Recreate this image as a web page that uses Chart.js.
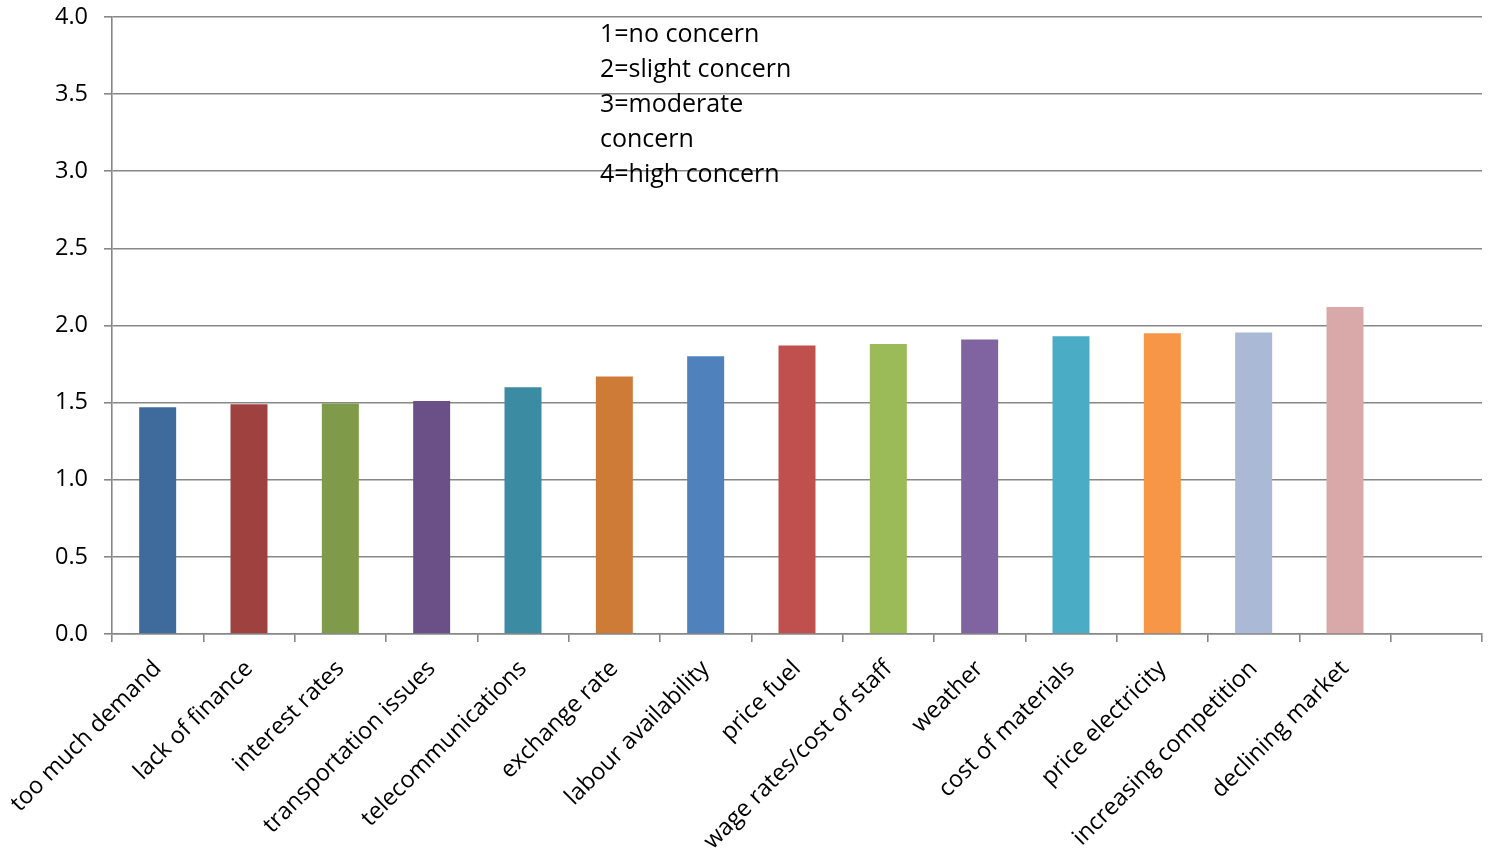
<!DOCTYPE html>
<html>
<head>
<meta charset="utf-8">
<title>Concerns</title>
<script src="https://cdn.jsdelivr.net/npm/chart.js@4/dist/chart.umd.min.js"></script>
<style>
  html, body { margin: 0; padding: 0; background: #fff; }
  #wrap { width: 1489px; height: 848px; position: relative; }
</style>
</head>
<body>
<div id="wrap"><canvas id="concerns"></canvas></div>
<script>
const categories = [
  'too much demand', 'lack of finance', 'interest rates', 'transportation issues',
  'telecommunications', 'exchange rate', 'labour availability', 'price fuel',
  'wage rates/cost of staff', 'weather', 'cost of materials', 'price electricity',
  'increasing competition', 'declining market', ''
];
const meanScores = [1.47, 1.49, 1.495, 1.51, 1.60, 1.67, 1.80, 1.87, 1.88, 1.91, 1.93, 1.95, 1.955, 2.12, null];
const barColors = [
  '#3F6A9C', '#9F413F', '#7F9A49', '#6A5087', '#3B8BA2', '#CD7B37', '#4F81BD',
  '#C0504D', '#9BBB59', '#8064A2', '#4BACC6', '#F79646', '#AAB9D6', '#D9A9AA', '#ffffff'
];
const scaleKey = ['1=no concern', '2=slight concern', '3=moderate', 'concern', '4=high concern'];

const FONT = '"Open Sans", "DejaVu Sans", sans-serif';

// scale legend written inside the plot
const keyText = {
  id: 'keyText',
  afterDraw(chart) {
    const ctx = chart.ctx;
    ctx.save();
    ctx.font = '25px ' + FONT;
    ctx.fillStyle = '#000';
    ctx.textAlign = 'left';
    ctx.textBaseline = 'alphabetic';
    scaleKey.forEach((line, i) => {
      ctx.fillText(line, 600, 42 + i * 35);
    });
    ctx.restore();
  }
};

const ctx = document.getElementById('concerns').getContext('2d');

window.concernsChart = new Chart(ctx, {
  type: 'bar',
  data: {
    labels: categories,
    datasets: [{
      label: 'mean concern',
      data: meanScores,
      backgroundColor: barColors,
      borderWidth: 0,
      barPercentage: 0.405,
      categoryPercentage: 1
    }]
  },
  options: {
    responsive: true,
    maintainAspectRatio: false,
    animation: false,
    layout: {
      padding: { top: 17, right: 7, left: 0, bottom: 0 }
    },
    plugins: {
      legend: { display: false },
      tooltip: { enabled: false }
    },
    scales: {
      x: {
        offset: true,
        grid: {
          offset: true,
          drawOnChartArea: false,
          drawTicks: true,
          tickLength: 8,
          color: '#878787',
          lineWidth: 1.6
        },
        border: { display: true, color: '#878787', width: 1.6 },
        ticks: {
          autoSkip: false,
          minRotation: 45,
          maxRotation: 45,
          padding: 13,
          color: '#000',
          font: { family: FONT, size: 23.5 }
        },
        afterFit(scale) {
          scale.height = 214;
          scale.paddingLeft = 0;
          scale.paddingRight = 0;
        }
      },
      y: {
        min: 0,
        max: 4,
        grid: {
          color: '#878787',
          lineWidth: 1.6,
          tickLength: 8
        },
        border: { display: true, color: '#878787', width: 1.6 },
        ticks: {
          stepSize: 0.5,
          padding: 16,
          color: '#000',
          font: { family: FONT, size: 23.5 },
          callback: (v) => v.toFixed(1)
        },
        afterFit(scale) {
          scale.width = 112;
          scale.paddingTop = 0;
          scale.paddingBottom = 0;
        }
      }
    }
  },
  plugins: [keyText]
});
</script>
</body>
</html>
